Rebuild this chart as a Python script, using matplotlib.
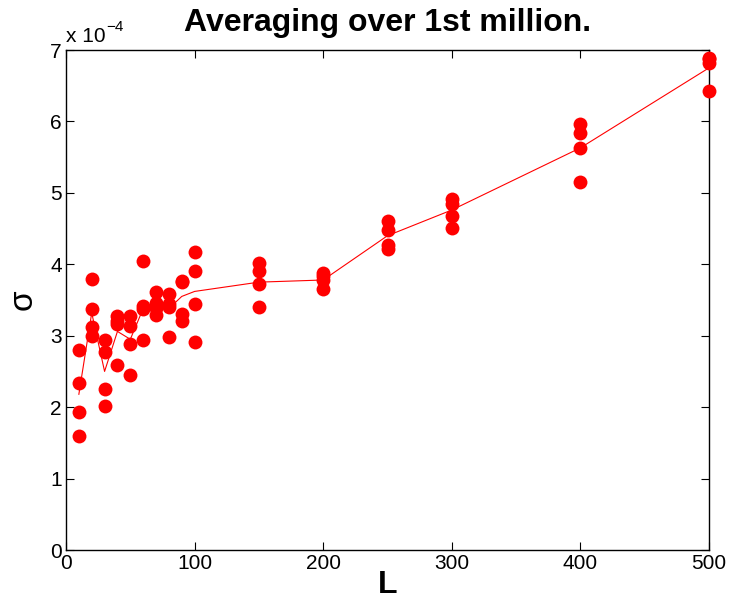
import matplotlib
matplotlib.use("Agg")
import matplotlib.pyplot as plt

plt.rcParams['font.family'] = ['Liberation Sans', 'DejaVu Sans']

# sigma samples for each window length L (units of 1e-4)
L_vals = [10, 20, 30, 40, 50, 60, 70, 80, 90, 100, 150, 200, 250, 300, 400, 500]
sigma_runs = [
    [2.80, 2.34, 1.93, 1.60],
    [3.79, 3.37, 3.12, 3.00],
    [2.94, 2.77, 2.26, 2.02],
    [3.27, 3.21, 3.17, 2.59],
    [3.27, 3.13, 2.88, 2.45],
    [4.04, 3.41, 3.38, 2.94],
    [3.61, 3.46, 3.39, 3.29],
    [3.59, 3.45, 3.40, 2.98],
    [3.77, 3.75, 3.30, 3.20],
    [4.17, 3.90, 3.45, 2.91],
    [4.02, 3.91, 3.73, 3.40],
    [3.88, 3.84, 3.78, 3.65],
    [4.61, 4.48, 4.27, 4.21],
    [4.91, 4.85, 4.68, 4.51],
    [5.96, 5.84, 5.63, 5.15],
    [6.89, 6.87, 6.82, 6.43],
]
# averaged curve
sigma_avg = [2.18, 3.32, 2.50, 3.06, 2.95, 3.38, 3.40, 3.38, 3.55, 3.62,
             3.75, 3.78, 4.40, 4.76, 5.63, 6.75]

fig = plt.figure(figsize=(7.3, 6.14), dpi=100, facecolor='w')
ax = fig.add_axes([66 / 730, 64 / 614, 643 / 730, 500 / 614])

xs = [L for L, runs in zip(L_vals, sigma_runs) for _ in runs]
ys = [s for runs in sigma_runs for s in runs]
ax.plot(xs, ys, 'o', color='#ff0000', markersize=10, markeredgewidth=0,
        clip_on=False, zorder=3)
ax.plot(L_vals, sigma_avg, '-', color='#ff0000', linewidth=0.8, zorder=2)

ax.set_xlim(0, 500)
ax.set_ylim(0, 7)
ax.set_xticks(range(0, 501, 100))
ax.set_yticks(range(0, 8))
ax.tick_params(direction='in', length=6, width=0.8, top=True, right=True,
               labelsize=15, pad=3)
for sp in ax.spines.values():
    sp.set_linewidth(1.0)

ax.text(0.0, 1.008, 'x 10', transform=ax.transAxes, fontsize=15,
        ha='left', va='bottom')
ax.text(0.063, 1.032, '\u22124', transform=ax.transAxes, fontsize=11,
        ha='left', va='bottom')
ax.set_title('Averaging over 1st million.', fontsize=23, fontweight='bold',
             pad=14)
ax.set_xlabel('L', fontsize=23, fontweight='bold', labelpad=-2)
ax.set_ylabel('\u03c3', fontsize=24, labelpad=8)

fig.savefig('out.png', dpi=100, facecolor='w')
